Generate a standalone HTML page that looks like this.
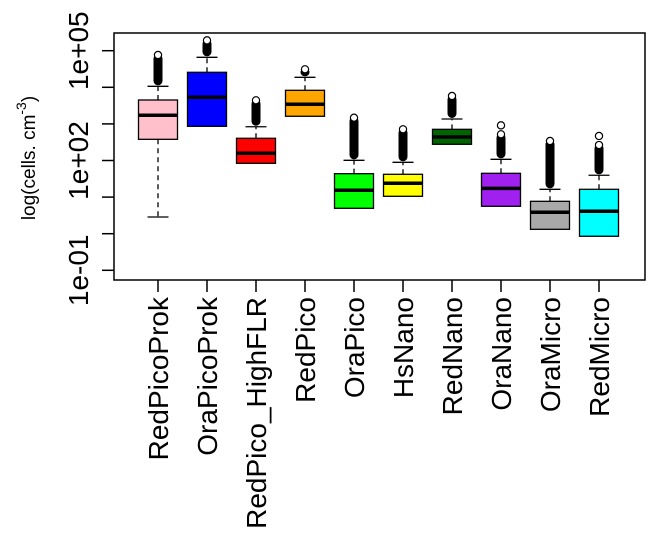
<!DOCTYPE html>
<html><head><meta charset="utf-8"><style>
body{margin:0;background:#fff}
svg{display:block;font-family:"Liberation Sans",Arial,sans-serif}
</style></head><body>
<svg id="chart" width="657" height="548" viewBox="0 0 657 548">
<rect x="0" y="0" width="657" height="548" fill="#fff"/>
<g id="plot"></g>
</svg>
<script>
const categories=["RedPicoProk","OraPicoProk","RedPico_HighFLR","RedPico","OraPico","HsNano","RedNano","OraNano","OraMicro","RedMicro"];
const colors=["pink","#0000ff","#ff0000","orange","#00ff00","#ffff00","#006400","#a020f0","#a9a9a9","#00ffff"];
// log10 values
const lowerWhisker=[0.456,2.934,1.923,3.208,0.694,1.022,2.443,0.749,0.12,-0.07];
const q1=[2.579,2.934,1.923,3.208,0.694,1.022,2.443,0.749,0.12,-0.07];
const median=[3.235,3.727,2.197,3.536,1.186,1.377,2.642,1.24,0.585,0.612];
const q3=[3.653,4.41,2.607,3.918,1.64,1.623,2.852,1.65,0.885,1.213];
const upperWhisker=[4.027,4.82,2.923,4.273,2.005,1.951,3.134,2.033,1.213,1.596];
const outlierMax=[4.91,5.31,3.672,4.519,3.197,2.88,3.79,2.743,2.56,2.45];
const extraOutliers=[[],[],[],[],[],[],[],[2.96],[],[2.67]];
const yTicks=[5,4,3,2,1,0,-1];
const yLabels={"5":"1e+05","2":"1e+02","-1":"1e-01"};

const NS="http://www.w3.org/2000/svg";
const g=document.getElementById('plot');
const L=114,R=645,T=33,B=280;
const yS=v=>50.7+(5-v)*36.6;
const xS=i=>158+49*i;
function mk(t,a,p){const e=document.createElementNS(NS,t);for(const k in a)e.setAttribute(k,a[k]);(p||g).appendChild(e);return e;}

const frame=mk('rect',{x:L,y:T,width:R-L,height:B-T,fill:'none',stroke:'#000','stroke-width':1.5});



yTicks.forEach(v=>{
  const y=yS(v);
  const t=mk('line',{x1:L-12,x2:L,y1:y,y2:y,stroke:'#000','stroke-width':1.5});
  
  
  if(yLabels[v]){
    const tx=mk('text',{x:0,y:0,transform:`translate(88,${y}) rotate(-90)`,'text-anchor':'middle','font-size':28});
    tx.textContent=yLabels[v];
    
    
  }
});
const yt=mk('text',{transform:'translate(35,158) rotate(-90)','text-anchor':'middle','font-size':19});


yt.innerHTML='log(cells. cm<tspan dy="-9" font-size="14">-3</tspan><tspan dy="9">)</tspan>';

categories.forEach((c,i)=>{
  const x=xS(i),hw=19.5,cw=10.5;
  const grp=mk('g',{});
  
  
  if(lowerWhisker[i]<q1[i]){
    mk('line',{x1:x,x2:x,y1:yS(q1[i]),y2:yS(lowerWhisker[i]),stroke:'#000','stroke-width':1.3,'stroke-dasharray':'5,4'},grp);
    mk('line',{x1:x-cw,x2:x+cw,y1:yS(lowerWhisker[i]),y2:yS(lowerWhisker[i]),stroke:'#000','stroke-width':1.3},grp);
  }
  mk('line',{x1:x,x2:x,y1:yS(q3[i]),y2:yS(upperWhisker[i]),stroke:'#000','stroke-width':1.3,'stroke-dasharray':'5,4'},grp);
  mk('line',{x1:x-cw,x2:x+cw,y1:yS(upperWhisker[i]),y2:yS(upperWhisker[i]),stroke:'#000','stroke-width':1.3},grp);
  const top=yS(outlierMax[i]),bot=yS(upperWhisker[i])-1;
  mk('rect',{x:x-4.5,y:top,width:9,height:Math.max(0,bot-top),rx:4.5,fill:'#000'},grp);
  mk('circle',{cx:x,cy:top+1,r:3.6,fill:'#fff',stroke:'#000','stroke-width':1.2},grp);
  extraOutliers[i].forEach(v=>mk('circle',{cx:x,cy:yS(v),r:3.6,fill:'#fff',stroke:'#000','stroke-width':1.2},grp));
  mk('rect',{x:x-hw,y:yS(q3[i]),width:2*hw,height:yS(q1[i])-yS(q3[i]),fill:colors[i],stroke:'#000','stroke-width':1.3},grp);
  mk('line',{x1:x-hw,x2:x+hw,y1:yS(median[i]),y2:yS(median[i]),stroke:'#000','stroke-width':3.5},grp);
  const xt=mk('line',{x1:x,x2:x,y1:B,y2:B+12,stroke:'#000','stroke-width':1.5});
  
  
  const lb=mk('text',{transform:`translate(${x+10},297) rotate(-90)`,'text-anchor':'end','font-size':28});
  lb.textContent=c;
  
  
});
</script>
</body></html>
